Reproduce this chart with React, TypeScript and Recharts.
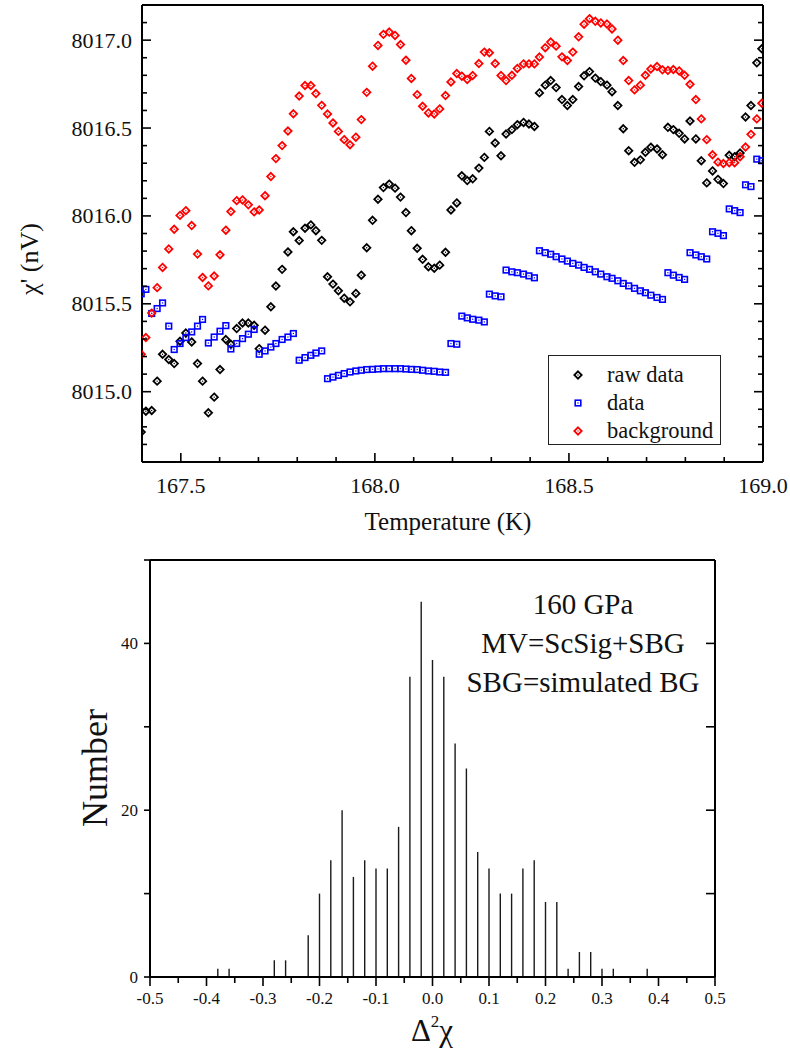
import { ErrorBar, Legend, Scatter, ScatterChart, XAxis, YAxis } from "recharts";

const SERIF = '"Liberation Serif", "Times New Roman", serif';

// Temperature sweep shared by the three traces (K)
const temperatureK = [
  167.398, 167.41, 167.425, 167.439, 167.453, 167.469, 167.483, 167.498, 167.513, 167.528,
  167.543, 167.556, 167.571, 167.586, 167.601, 167.616, 167.629, 167.644, 167.659, 167.674,
  167.689, 167.702, 167.717, 167.732, 167.745, 167.761, 167.776, 167.79, 167.805, 167.82,
  167.835, 167.848, 167.863, 167.878, 167.892, 167.906, 167.921, 167.936, 167.951, 167.965,
  167.979, 167.994, 168.008, 168.022, 168.037, 168.052, 168.066, 168.08, 168.094, 168.109,
  168.123, 168.138, 168.153, 168.167, 168.182, 168.196, 168.211, 168.224, 168.238, 168.252,
  168.268, 168.282, 168.295, 168.31, 168.325, 168.338, 168.353, 168.367, 168.383, 168.397,
  168.411, 168.424, 168.439, 168.453, 168.467, 168.482, 168.496, 168.51, 168.525, 168.539,
  168.553, 168.568, 168.582, 168.598, 168.611, 168.626, 168.64, 168.654, 168.669, 168.684,
  168.697, 168.711, 168.727, 168.741, 168.755, 168.769, 168.784, 168.798, 168.812, 168.827,
  168.841, 168.855, 168.87, 168.884, 168.898, 168.913, 168.927, 168.941, 168.955, 168.969,
  168.984, 168.997,
];

// chi' (nV)
const rawChi = [
  8014.77, 8014.889, 8014.893, 8015.06, 8015.213, 8015.183, 8015.16, 8015.287, 8015.334, 8015.283,
  8015.16, 8015.06, 8014.88, 8014.969, 8015.126, 8015.297, 8015.27, 8015.359, 8015.391, 8015.391,
  8015.378, 8015.245, 8015.35, 8015.483, 8015.601, 8015.696, 8015.795, 8015.91, 8015.86, 8015.93,
  8015.949, 8015.916, 8015.861, 8015.654, 8015.612, 8015.574, 8015.532, 8015.511, 8015.559, 8015.663,
  8015.819, 8015.975, 8016.095, 8016.161, 8016.181, 8016.158, 8016.107, 8016.019, 8015.916, 8015.816,
  8015.753, 8015.711, 8015.702, 8015.72, 8015.793, 8016.034, 8016.074, 8016.228, 8016.201, 8016.211,
  8016.272, 8016.333, 8016.481, 8016.415, 8016.342, 8016.466, 8016.491, 8016.519, 8016.532, 8016.523,
  8016.509, 8016.7, 8016.744, 8016.77, 8016.73, 8016.662, 8016.628, 8016.662, 8016.736, 8016.797,
  8016.821, 8016.784, 8016.764, 8016.744, 8016.707, 8016.628, 8016.496, 8016.371, 8016.305, 8016.319,
  8016.362, 8016.391, 8016.381, 8016.348, 8016.504, 8016.491, 8016.47, 8016.438, 8016.54, 8016.438,
  8016.314, 8016.188, 8016.256, 8016.208, 8016.184, 8016.345, 8016.337, 8016.358, 8016.563, 8016.628,
  8016.871, 8016.951,
];

const dataChi = [
  8015.557, 8015.582, 8015.445, 8015.473, 8015.505, 8015.373, 8015.24, 8015.274, 8015.308, 8015.34,
  8015.373, 8015.411, 8015.277, 8015.311, 8015.344, 8015.376, 8015.243, 8015.274, 8015.302, 8015.327,
  8015.354, 8015.213, 8015.232, 8015.254, 8015.274, 8015.297, 8015.311, 8015.331, 8015.179, 8015.194,
  8015.207, 8015.22, 8015.232, 8015.074, 8015.083, 8015.093, 8015.103, 8015.112, 8015.118, 8015.122,
  8015.126, 8015.127, 8015.129, 8015.131, 8015.131, 8015.131, 8015.131, 8015.129, 8015.127, 8015.126,
  8015.122, 8015.118, 8015.116, 8015.112, 8015.11, 8015.274, 8015.27, 8015.43, 8015.42, 8015.412,
  8015.407, 8015.397, 8015.555, 8015.545, 8015.54, 8015.692, 8015.682, 8015.677, 8015.669, 8015.659,
  8015.648, 8015.802, 8015.791, 8015.782, 8015.768, 8015.755, 8015.743, 8015.73, 8015.72, 8015.707,
  8015.696, 8015.682, 8015.669, 8015.654, 8015.645, 8015.631, 8015.616, 8015.602, 8015.588, 8015.574,
  8015.563, 8015.549, 8015.536, 8015.525, 8015.677, 8015.663, 8015.65, 8015.639, 8015.791, 8015.778,
  8015.768, 8015.755, 8015.91, 8015.901, 8015.888, 8016.04, 8016.03, 8016.019, 8016.177, 8016.167,
  8016.323, 8016.314,
];

const backgroundChi = [
  8015.213, 8015.308, 8015.447, 8015.592, 8015.707, 8015.812, 8015.924, 8016.003, 8016.03, 8015.945,
  8015.783, 8015.65, 8015.602, 8015.658, 8015.779, 8015.919, 8016.025, 8016.087, 8016.091, 8016.063,
  8016.023, 8016.034, 8016.115, 8016.224, 8016.326, 8016.4, 8016.483, 8016.581, 8016.682, 8016.742,
  8016.742, 8016.696, 8016.629, 8016.58, 8016.529, 8016.481, 8016.434, 8016.405, 8016.448, 8016.548,
  8016.703, 8016.852, 8016.97, 8017.033, 8017.046, 8017.027, 8016.975, 8016.886, 8016.782, 8016.69,
  8016.624, 8016.586, 8016.58, 8016.609, 8016.685, 8016.762, 8016.81, 8016.795, 8016.776, 8016.799,
  8016.867, 8016.932, 8016.928, 8016.867, 8016.799, 8016.77, 8016.8, 8016.839, 8016.865, 8016.865,
  8016.865, 8016.904, 8016.957, 8016.989, 8016.966, 8016.905, 8016.884, 8016.932, 8017.019, 8017.091,
  8017.122, 8017.107, 8017.098, 8017.092, 8017.064, 8017.0, 8016.884, 8016.77, 8016.717, 8016.744,
  8016.8, 8016.836, 8016.85, 8016.831, 8016.828, 8016.833, 8016.825, 8016.8, 8016.749, 8016.662,
  8016.552, 8016.434, 8016.348, 8016.306, 8016.298, 8016.303, 8016.303, 8016.337, 8016.392, 8016.464,
  8016.552, 8016.641,
];

const temperatureTicks = [
  167.4, 167.5, 167.6, 167.7, 167.8, 167.9, 168.0, 168.1, 168.2, 168.3, 168.4, 168.5, 168.6,
  168.7, 168.8, 168.9, 169.0,
];
const chiTicks = [
  8014.6, 8014.7, 8014.8, 8014.9, 8015.0, 8015.1, 8015.2, 8015.3, 8015.4, 8015.5, 8015.6,
  8015.7, 8015.8, 8015.9, 8016.0, 8016.1, 8016.2, 8016.3, 8016.4, 8016.5, 8016.6, 8016.7,
  8016.8, 8016.9, 8017.0, 8017.1, 8017.2,
];

// Histogram of the second difference
const deltaBins = [
  -0.38, -0.36, -0.34, -0.32, -0.3, -0.28, -0.26, -0.24, -0.22, -0.2, -0.18, -0.16, -0.14,
  -0.12, -0.1, -0.08, -0.06, -0.04, -0.02, 0.0, 0.02, 0.04, 0.06, 0.08, 0.1, 0.12, 0.14, 0.16,
  0.18, 0.2, 0.22, 0.24, 0.26, 0.28, 0.3, 0.32, 0.34, 0.36, 0.38,
];
const deltaCounts = [
  1, 1, 0, 0, 0, 2, 2, 0, 5, 10, 14, 20, 12, 14, 13, 13, 18, 36, 45, 38, 36, 28, 25, 15, 13, 10,
  10, 13, 14, 9, 9, 1, 3, 3, 1, 1, 0, 0, 1,
];
const deltaTicks = [
  -0.5, -0.45, -0.4, -0.35, -0.3, -0.25, -0.2, -0.15, -0.1, -0.05, 0, 0.05, 0.1, 0.15, 0.2,
  0.25, 0.3, 0.35, 0.4, 0.45, 0.5,
];
const countTicks = [0, 10, 20, 30, 40, 50];
const countLabels = [0, 20, 40];

const annotationLines = ["160 GPa", "MV=ScSig+SBG", "SBG=simulated BG"];

const legendItems = [
  { name: "raw data", color: "#000000", mark: "diamond" },
  { name: "data", color: "#0000ff", mark: "square" },
  { name: "background", color: "#ff0000", mark: "diamond" },
];

const toPoints = (values: number[]) => temperatureK.map((t, i) => ({ t, v: values[i] }));
const rawPoints = toPoints(rawChi);
const dataPoints = toPoints(dataChi);
const backgroundPoints = toPoints(backgroundChi);
// each stem runs from the count down to zero: [below, above]
const histogram = deltaBins.map((d, i) => ({ d, n: deltaCounts[i], stem: [deltaCounts[i], 0] }));

const onGrid = (v: number, step: number) => Math.abs(v / step - Math.round(v / step)) < 1e-6;

// ---------- markers ----------

function Diamond({ cx, cy, color }: { cx: number; cy: number; color: string }) {
  const r = 3.7;
  return (
    <g>
      <path
        d={`M${cx},${cy - r}L${cx + r},${cy}L${cx},${cy + r}L${cx - r},${cy}Z`}
        fill="none"
        stroke={color}
        strokeWidth={1.8}
      />
      <circle cx={cx} cy={cy} r={0.7} fill={color} />
    </g>
  );
}

function Square({ cx, cy, color }: { cx: number; cy: number; color: string }) {
  const h = 2.8;
  return (
    <g>
      <rect x={cx - h} y={cy - h} width={2 * h} height={2 * h} fill="none" stroke={color} strokeWidth={1.6} />
      <rect x={cx - 0.6} y={cy - 0.6} width={1.2} height={1.2} fill={color} />
    </g>
  );
}

const diamondShape = (color: string) => (props: any) => <Diamond cx={props.cx} cy={props.cy} color={color} />;
const squareShape = (color: string) => (props: any) => <Square cx={props.cx} cy={props.cy} color={color} />;

// ---------- axis ticks ----------

type Side = "bottom" | "top" | "left" | "right";
type TickStyle = {
  side: Side;
  inward: boolean;
  majorLen: number;
  minorLen: number;
  isMajor: (v: number) => boolean;
  label?: (v: number) => string | null;
  fontSize?: number;
  gap?: number;
};

function tickRenderer(style: TickStyle) {
  return (props: any) => {
    const x: number = props.x;
    const y: number = props.y;
    const v: number = props.payload.value;
    const len = style.isMajor(v) ? style.majorLen : style.minorLen;
    const dir = style.inward ? 1 : -1;
    let end = { x, y };
    if (style.side === "bottom") end = { x, y: y - dir * len };
    if (style.side === "top") end = { x, y: y + dir * len };
    if (style.side === "left") end = { x: x + dir * len, y };
    if (style.side === "right") end = { x: x - dir * len, y };
    const text = style.label ? style.label(v) : null;
    const fs = style.fontSize ?? 20;
    const gap = style.gap ?? 10;
    return (
      <g>
        <line x1={x} y1={y} x2={end.x} y2={end.y} stroke="#000" strokeWidth={1.6} />
        {text !== null && style.side === "bottom" && (
          <text x={x} y={y + gap} textAnchor="middle" fontFamily={SERIF} fontSize={fs} fill="#111">
            {text}
          </text>
        )}
        {text !== null && style.side === "left" && (
          <text x={x - gap} y={y + fs * 0.34} textAnchor="end" fontFamily={SERIF} fontSize={fs} fill="#111">
            {text}
          </text>
        )}
      </g>
    );
  };
}

const frameLine = { stroke: "#000", strokeWidth: 2 };

// ---------- legend ----------

function LegendBox() {
  return (
    <div
      style={{
        width: 173,
        height: 90,
        boxSizing: "border-box",
        border: "1.5px solid #222",
        background: "#fff",
        position: "relative",
        fontFamily: SERIF,
        fontSize: 22.5,
        color: "#111",
      }}
    >
      {legendItems.map((item, i) => (
        <div key={item.name} style={{ position: "absolute", left: 0, top: 5 + i * 28, height: 28, width: 170 }}>
          <svg width={20} height={28} style={{ position: "absolute", left: 19, top: 0 }}>
            {item.mark === "diamond" ? (
              <Diamond cx={10} cy={14} color={item.color} />
            ) : (
              <Square cx={10} cy={14} color={item.color} />
            )}
          </svg>
          <span style={{ position: "absolute", left: 58, top: 0, lineHeight: "28px", whiteSpace: "nowrap" }}>
            {item.name}
          </span>
        </div>
      ))}
    </div>
  );
}

// ---------- charts ----------

function ChiChart() {
  return (
    <ScatterChart width={790} height={540} margin={{ top: 0, right: 0, bottom: 0, left: 0 }}>
      <XAxis
        type="number"
        dataKey="t"
        domain={[167.4, 169.0]}
        allowDataOverflow
        ticks={temperatureTicks}
        interval={0}
        height={78}
        tickSize={0}
        tickMargin={0}
        tickLine={false}
        axisLine={frameLine}
        tick={tickRenderer({
          side: "bottom",
          inward: true,
          majorLen: 9,
          minorLen: 5,
          isMajor: (v) => onGrid(v, 0.5),
          label: (v) => (onGrid(v, 0.5) ? v.toFixed(1) : null),
          fontSize: 22,
          gap: 31,
        })}
        label={() => (
          <text x={448} y={530} textAnchor="middle" fontFamily={SERIF} fontSize={25} fill="#111">
            Temperature (K)
          </text>
        )}
      />
      <XAxis
        xAxisId="top"
        orientation="top"
        type="number"
        domain={[167.4, 169.0]}
        allowDataOverflow
        ticks={temperatureTicks}
        interval={0}
        height={5}
        tickSize={0}
        tickMargin={0}
        tickLine={false}
        axisLine={frameLine}
        tick={tickRenderer({ side: "top", inward: true, majorLen: 9, minorLen: 5, isMajor: (v) => onGrid(v, 0.5) })}
      />
      <YAxis
        type="number"
        dataKey="v"
        domain={[8014.6, 8017.2]}
        allowDataOverflow
        ticks={chiTicks}
        interval={0}
        width={142}
        tickSize={0}
        tickMargin={0}
        tickLine={false}
        axisLine={frameLine}
        tick={tickRenderer({
          side: "left",
          inward: true,
          majorLen: 9,
          minorLen: 5,
          isMajor: (v) => onGrid(v, 0.5),
          label: (v) => (onGrid(v, 0.5) ? v.toFixed(1) : null),
          fontSize: 22,
          gap: 10,
        })}
        label={() => (
          <text
            transform="translate(38,259) rotate(-90)"
            textAnchor="middle"
            fontFamily={SERIF}
            fontSize={26}
            fill="#111"
          >
            χ' (nV)
          </text>
        )}
      />
      <YAxis
        yAxisId="right"
        orientation="right"
        type="number"
        domain={[8014.6, 8017.2]}
        allowDataOverflow
        ticks={chiTicks}
        interval={0}
        width={27}
        tickSize={0}
        tickMargin={0}
        tickLine={false}
        axisLine={frameLine}
        tick={tickRenderer({ side: "right", inward: true, majorLen: 9, minorLen: 5, isMajor: (v) => onGrid(v, 0.5) })}
      />
      <Scatter name="raw data" data={rawPoints} shape={diamondShape("#000000")} isAnimationActive={false} />
      <Scatter name="data" data={dataPoints} shape={squareShape("#0000ff")} isAnimationActive={false} />
      <Scatter name="background" data={backgroundPoints} shape={diamondShape("#ff0000")} isAnimationActive={false} />
      <Legend
        layout="vertical"
        align="center"
        verticalAlign="middle"
        content={() => <LegendBox />}
        wrapperStyle={{ left: 548, top: 355, width: 173, height: 90 }}
      />
    </ScatterChart>
  );
}

function HistogramChart() {
  return (
    <ScatterChart width={790} height={523} margin={{ top: 15, right: 0, bottom: 0, left: 0 }}>
      <XAxis
        type="number"
        dataKey="d"
        domain={[-0.5, 0.5]}
        allowDataOverflow
        ticks={deltaTicks}
        interval={0}
        height={86}
        tickSize={0}
        tickMargin={0}
        tickLine={false}
        axisLine={frameLine}
        tick={tickRenderer({
          side: "bottom",
          inward: false,
          majorLen: 9,
          minorLen: 6,
          isMajor: (v) => onGrid(v, 0.1),
          label: (v) => (onGrid(v, 0.1) ? v.toFixed(1) : null),
          fontSize: 17,
          gap: 27,
        })}
        label={() => (
          <text x={432} y={501} textAnchor="middle" fontFamily={SERIF} fontSize={31} fill="#111">
            <tspan>Δ</tspan>
            <tspan dy={-14} fontSize={17}>2</tspan>
            <tspan dy={14}>χ</tspan>
          </text>
        )}
      />
      <XAxis
        xAxisId="top"
        orientation="top"
        type="number"
        domain={[-0.5, 0.5]}
        allowDataOverflow
        ticks={deltaTicks}
        interval={0}
        height={5}
        tickSize={0}
        tickMargin={0}
        tickLine={false}
        axisLine={frameLine}
        tick={tickRenderer({ side: "top", inward: true, majorLen: 9, minorLen: 5, isMajor: (v) => onGrid(v, 0.1) })}
      />
      <YAxis
        type="number"
        dataKey="n"
        domain={[0, 50]}
        allowDataOverflow
        ticks={countTicks}
        interval={0}
        width={150}
        tickSize={0}
        tickMargin={0}
        tickLine={false}
        axisLine={frameLine}
        tick={tickRenderer({
          side: "left",
          inward: false,
          majorLen: 6,
          minorLen: 6,
          isMajor: () => true,
          label: (v) => (countLabels.includes(v) ? String(v) : null),
          fontSize: 17,
          gap: 12,
        })}
        label={() => (
          <text
            transform="translate(107,228) rotate(-90)"
            textAnchor="middle"
            fontFamily={SERIF}
            fontSize={36}
            fill="#111"
          >
            Number
          </text>
        )}
      />
      <YAxis
        yAxisId="right"
        orientation="right"
        type="number"
        domain={[0, 50]}
        allowDataOverflow
        ticks={countTicks}
        interval={0}
        width={75}
        tickSize={0}
        tickMargin={0}
        tickLine={false}
        axisLine={frameLine}
        tick={tickRenderer({ side: "right", inward: true, majorLen: 9, minorLen: 9, isMajor: () => true })}
      />
      <Scatter data={histogram} shape={() => <g />} isAnimationActive={false}>
        <ErrorBar
          dataKey="stem"
          direction="y"
          width={0}
          stroke="#1a1a1a"
          strokeWidth={1.4}
          isAnimationActive={false}
        />
      </Scatter>
    </ScatterChart>
  );
}

export default function App() {
  return (
    <div style={{ position: "absolute", left: 0, top: 0, width: 790, height: 1063, background: "#fff" }}>
      <div style={{ position: "absolute", left: 0, top: 0 }}>
        <ChiChart />
      </div>
      <div style={{ position: "absolute", left: 0, top: 540 }}>
        <HistogramChart />
      </div>
      <div
        style={{
          position: "absolute",
          left: 433,
          top: 585,
          width: 300,
          textAlign: "center",
          fontFamily: SERIF,
          fontSize: 29,
          lineHeight: "39px",
          color: "#111",
        }}
      >
        {annotationLines.map((line) => (
          <div key={line}>{line}</div>
        ))}
      </div>
    </div>
  );
}
